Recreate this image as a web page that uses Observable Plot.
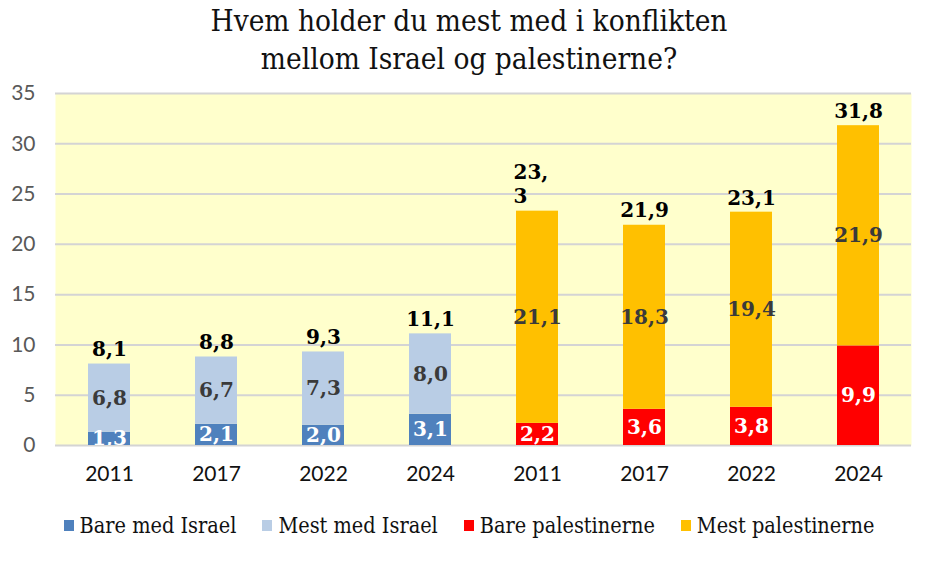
<!DOCTYPE html>
<html>
<head>
<meta charset="utf-8">
<script src="https://cdn.jsdelivr.net/npm/d3@7"></script>
<script src="https://cdn.jsdelivr.net/npm/@observablehq/plot@0.6"></script>
<style>
  html, body { margin: 0; padding: 0; background: #fff; }
  #wrap { width: 938px; height: 562px; position: relative; overflow: hidden; }
  #title { position: absolute; left: 0; top: 2px; width: 938px; text-align: center;
    font-family: "DejaVu Serif", serif; font-stretch: condensed; font-size: 29.5px; line-height: 38px; color: #111; }
  #chart { position: absolute; left: 0; top: 80px; }
  #legend { position: absolute; left: 0; top: 513px; width: 938px; display: flex; justify-content: center;
    gap: 26px; font-family: "DejaVu Serif", serif; font-stretch: condensed; font-size: 21.5px; color: #111; }
  #legend .item { display: flex; align-items: center; gap: 6px; }
  #legend .sw { width: 10px; height: 11px; display: inline-block; }
</style>
</head>
<body>
<div id="wrap">
  <div id="title">Hvem holder du mest med i konflikten<br>mellom Israel og palestinerne?</div>
  <div id="chart"></div>
  <div id="legend"></div>
</div>
<script>
const years = ["2011", "2017", "2022", "2024"];
const seriesNames = ["Bare med Israel", "Mest med Israel", "Bare palestinerne", "Mest palestinerne"];
const seriesColors = ["#4f81bd", "#b9cde5", "#ff0000", "#ffc000"];
const bareIsrael = [1.3, 2.1, 2.0, 3.1];
const mestIsrael = [6.8, 6.7, 7.3, 8.0];
const barePal = [2.2, 3.6, 3.8, 9.9];
const mestPal = [21.1, 18.3, 19.4, 21.9];
const totals = [8.1, 8.8, 9.3, 11.1, 23.3, 21.9, 23.1, 31.8];
const totalLabels = ["8,1", "8,8", "9,3", "11,1", "23,\n3", "21,9", "23,1", "31,8"];
const yTicks = [0, 5, 10, 15, 20, 25, 30, 35];

const xKeys = [...years.map(y => "I" + y), ...years.map(y => "P" + y)];
const rows = [];
years.forEach((y, i) => {
  rows.push({x: "I" + y, series: seriesNames[0], value: bareIsrael[i], light: true});
  rows.push({x: "I" + y, series: seriesNames[1], value: mestIsrael[i], light: false});
});
years.forEach((y, i) => {
  rows.push({x: "P" + y, series: seriesNames[2], value: barePal[i], light: true});
  rows.push({x: "P" + y, series: seriesNames[3], value: mestPal[i], light: false});
});
const fmt = v => v.toFixed(1).replace(".", ",");
const idx = d3.range(totals.length);

const labelFont = {fontFamily: "DejaVu Serif, serif", fontSize: 20, fontWeight: "bold", fontStretch: "condensed"};

const chart = Plot.plot({
  width: 938,
  height: 410,
  marginTop: 13,
  marginBottom: 45,
  marginLeft: 55,
  marginRight: 27,
  style: {fontFamily: "Lato, sans-serif", background: "transparent"},
  x: {domain: xKeys, paddingInner: 0.61, paddingOuter: 0.305, label: null},
  y: {domain: [0, 35], label: null},
  color: {domain: seriesNames, range: seriesColors},
  marks: [
    Plot.frame({fill: "#ffffcc", stroke: "none"}),
    Plot.ruleY(yTicks, {stroke: "#d4d4d4", strokeWidth: 2}),
    Plot.axisY({ticks: yTicks, tickSize: 0, tickPadding: 20, fontSize: 21, color: "#595959", label: null}),
    Plot.axisX({tickSize: 0, tickPadding: 21, fontSize: 21, color: "#111", tickFormat: d => d.slice(1), label: null}),
    Plot.barY(rows, {x: "x", y: "value", fill: "series"}),
    Plot.text(rows, Plot.filter(d => d.light, Plot.stackY({x: "x", y: "value", text: d => fmt(d.value), fill: "#ffffff", clip: true, ...labelFont}))),
    Plot.text(rows, Plot.filter(d => !d.light, Plot.stackY({x: "x", y: "value", text: d => fmt(d.value), fill: "#3a3a3a", ...labelFont}))),
    Plot.text(idx.filter(i => i !== 4), {x: i => xKeys[i], y: i => totals[i], text: i => totalLabels[i], lineAnchor: "bottom", dy: -8, fill: "#000", ...labelFont}),
    Plot.text([4], {x: i => xKeys[i], y: i => totals[i], text: i => totalLabels[i], lineAnchor: "bottom", textAnchor: "start", dx: -24, dy: -8, lineHeight: 1.2, fill: "#000", ...labelFont})
  ]
});
document.getElementById("chart").appendChild(chart);

const legend = document.getElementById("legend");
seriesNames.forEach((name, i) => {
  const item = document.createElement("div");
  item.className = "item";
  const sw = document.createElement("span");
  sw.className = "sw";
  sw.style.background = seriesColors[i];
  const lab = document.createElement("span");
  lab.textContent = name;
  item.appendChild(sw);
  item.appendChild(lab);
  legend.appendChild(item);
});
</script>
</body>
</html>
